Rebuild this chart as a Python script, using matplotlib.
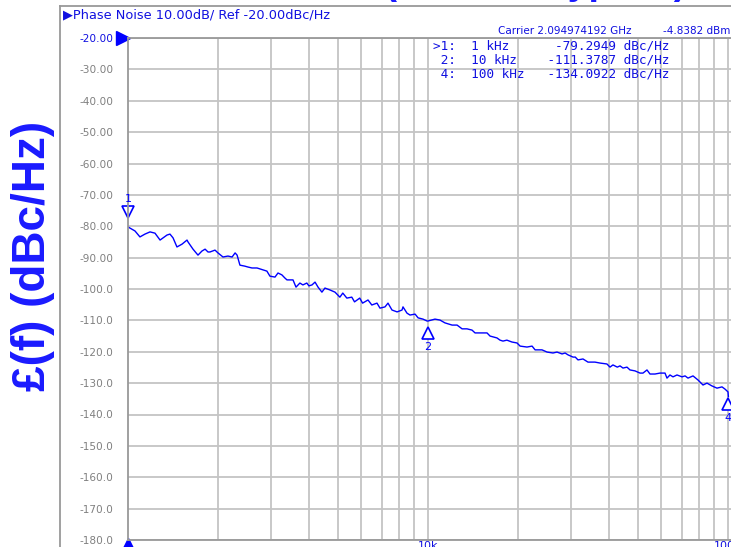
import numpy as np
import matplotlib
matplotlib.use("Agg")
import matplotlib.pyplot as plt
from matplotlib.transforms import ScaledTranslation
from matplotlib.lines import Line2D

# trace (offset freq in kHz, phase noise in dBc/Hz)
freq_khz = [1.000, 1.016, 1.055, 1.096, 1.139, 1.184, 1.230, 1.279, 1.309, 1.349,
            1.380, 1.413, 1.456, 1.514, 1.573, 1.585, 1.647, 1.711, 1.764, 1.807,
            1.848, 1.876, 1.950, 1.995, 2.073, 2.154, 2.223, 2.275, 2.310, 2.361,
            2.448, 2.512, 2.590, 2.692, 2.754, 2.818, 2.904, 2.972, 3.090, 3.162,
            3.258, 3.334, 3.388, 3.548, 3.631, 3.741, 3.828, 3.945, 4.009, 4.105,
            4.202, 4.300, 4.430, 4.534, 4.711, 4.897, 5.085, 5.200, 5.364, 5.571,
            5.690, 5.921, 6.053, 6.310, 6.497, 6.760, 6.918, 7.190, 7.356, 7.585,
            7.889, 8.193, 8.254, 8.511, 8.710, 9.057, 9.268, 9.624, 9.924, 10.00,
            10.55, 10.96, 11.39, 12.03, 12.50, 12.99, 13.49, 14.02, 14.35, 14.91,
            15.73, 16.10, 16.98, 17.38, 17.78, 18.32, 19.05, 19.80, 20.28, 21.38,
            22.23, 22.75, 23.99, 24.94, 26.10, 26.92, 27.98, 28.64, 29.30, 30.44,
            30.97, 31.62, 32.86, 34.14, 36.02, 37.43, 39.49, 40.42, 41.35, 42.76,
            43.65, 44.67, 46.06, 47.13, 48.98, 50.89, 52.07, 53.70, 54.95, 57.10,
            59.34, 61.66, 62.61, 64.06, 65.56, 67.61, 70.26, 71.94, 73.56, 76.45,
            79.43, 82.54, 85.11, 88.44, 91.90, 95.50, 97.72, 100.0, 100.3]
noise_dbc = [-80.2, -80.6, -81.5, -83.4, -82.5, -81.8, -82.2, -84.4, -83.7, -82.8,
             -82.5, -83.7, -86.6, -85.7, -84.4, -85.0, -87.3, -89.2, -87.9, -87.3,
             -88.2, -88.2, -87.6, -88.5, -89.8, -89.5, -89.8, -88.5, -89.2, -92.4,
             -92.7, -93.0, -93.3, -93.3, -93.6, -93.9, -94.3, -95.9, -96.2, -94.9,
             -95.5, -96.5, -97.1, -97.1, -99.4, -98.1, -98.7, -98.1, -99.0, -98.7,
             -97.8, -99.4, -101.0, -99.7, -100.3, -101.0, -102.6, -101.3, -102.9, -102.6,
             -104.1, -102.9, -104.5, -103.5, -105.1, -104.5, -106.1, -105.7, -104.5, -106.7,
             -107.3, -106.7, -105.7, -107.7, -108.3, -108.0, -109.2, -109.6, -110.2, -110.2,
             -109.6, -109.9, -110.8, -111.5, -111.5, -112.7, -112.7, -113.1, -114.0, -114.0,
             -114.0, -115.0, -115.6, -116.3, -116.6, -116.3, -116.9, -117.2, -118.2, -118.5,
             -118.2, -119.4, -119.4, -120.1, -120.4, -120.1, -120.7, -120.4, -121.0, -121.7,
             -121.7, -122.6, -122.3, -123.3, -123.3, -123.6, -123.9, -124.9, -124.2, -124.9,
             -124.5, -125.2, -124.9, -125.8, -126.1, -126.8, -126.8, -125.8, -127.1, -127.1,
             -126.8, -126.8, -128.4, -127.4, -128.0, -127.4, -128.0, -127.7, -128.4, -127.7,
             -129.0, -130.6, -130.0, -130.9, -131.6, -131.2, -131.9, -132.8, -134.3]

# markers
mk_names = ['1', '2', '4']
mk_khz = [1, 10, 100]
mk_dbc = [-79.2949, -111.3787, -134.0922]
mk_rows = ['>1:  1 kHz      -79.2949 dBc/Hz',
           ' 2:  10 kHz    -111.3787 dBc/Hz',
           ' 4:  100 kHz   -134.0922 dBc/Hz']

yticks = list(range(-180, -19, 10))
ylabels = ['%.2f' % v if v > -100 else '%.1f' % v for v in yticks]

blue = '#0000ff'
txtblue = '#1010e0'
gray = '#808080'

W, H = 731, 547
fig = plt.figure(figsize=(W / 100, H / 100), dpi=100)
ax = fig.add_axes([128 / W, 7 / H, 900 / W, 502 / H])

ax.plot(np.array(freq_khz) * 1e3, noise_dbc, color=blue, lw=1.0)
ax.set_xscale('log')
ax.set_xlim(1e3, 1e6)
ax.set_ylim(-180, -20)

ax.set_yticks(yticks)
ax.set_yticklabels(ylabels)
ax.tick_params(axis='y', length=0, pad=10.5, labelsize=7.6, labelcolor=gray)
ax.get_yticklabels()[-1].set_color(txtblue)
ax.set_xticks([1e4, 1e5])
ax.set_xticklabels(['10k', '100k'])
ax.set_xticks([], minor=True)
ax.tick_params(axis='x', which='both', length=0, pad=1, labelsize=8, labelcolor=txtblue)

ax.grid(True, which='major', color='#c4c4c4', lw=1.3)
for m in range(2, 10):
    for dec in (1e3, 1e4, 1e5):
        ax.axvline(m * dec, color='#c4c4c4', lw=1.3, zorder=0)

for s in ['left', 'bottom', 'top']:
    ax.spines[s].set_color('#999999')
    ax.spines[s].set_linewidth(1.3)
ax.spines['right'].set_visible(False)

# reference-level arrow and start marker
off = lambda dx, dy: ax.transData + ScaledTranslation(dx / 100, dy / 100, fig.dpi_scale_trans)
ax.plot([1e3], [-20], marker='>', ms=10, color=blue, clip_on=False, transform=off(-5, 0))
ax.plot([1e3], [-180], marker='^', ms=11, color=blue, clip_on=False, transform=off(0, -6))

# trace markers
for i in range(3):
    if i == 0:
        ax.plot([mk_khz[i] * 1e3], [mk_dbc[i]], marker='v', ms=8, mfc='white', mec=blue,
                mew=1.2, clip_on=False, transform=off(0, 12))
        ax.text(mk_khz[i] * 1e3, mk_dbc[i], mk_names[i], color=blue, fontsize=8,
                ha='center', va='center', transform=off(0, 25), clip_on=False)
    else:
        ax.plot([mk_khz[i] * 1e3], [mk_dbc[i]], marker='^', ms=8, mfc='white', mec=blue,
                mew=1.2, clip_on=False, transform=off(0, -8))
        ax.text(mk_khz[i] * 1e3, mk_dbc[i], mk_names[i], color=blue, fontsize=8,
                ha='center', va='center', transform=off(0, -22), clip_on=False)

# marker table
for i, row in enumerate(mk_rows):
    fig.text(433 / W, 1 - (46 + 14 * i) / H, row, family='DejaVu Sans Mono', fontsize=9.2,
             color=txtblue, ha='left', va='center')

# header texts
fig.text(63 / W, 1 - 15 / H, '\u25b6Phase Noise 10.00dB/ Ref -20.00dBc/Hz', fontsize=9.3,
         color=txtblue, ha='left', va='center')
fig.text(498 / W, 1 - 31 / H, 'Carrier 2.094974192 GHz', fontsize=7.5, color=txtblue,
         ha='left', va='center')
fig.text(730 / W, 1 - 31 / H, '-4.8382 dBm', fontsize=7.5, color=txtblue, ha='right', va='center')

# outer frame
fig.add_artist(Line2D([60 / W, 1], [1 - 6 / H, 1 - 6 / H], color='#999999', lw=1.3))
fig.add_artist(Line2D([60 / W, 60 / W], [0, 1 - 6 / H], color='#999999', lw=1.3))

# big y label and cropped title
fig.text(33 / W, 1 - 256 / H, '\u00a3(f) (dBc/Hz)', rotation=90, fontsize=33,
         fontweight='bold', family='Liberation Sans', color='#1a1aff', ha='center', va='center')
fig.text(686 / W, 1 + 6 / H, 'Phase Noise (2.1 GHz, typical)', fontsize=27,
         fontweight='bold', family='Liberation Sans', color='#1a1aff', ha='right', va='baseline')

fig.savefig('out.png', dpi=100)
